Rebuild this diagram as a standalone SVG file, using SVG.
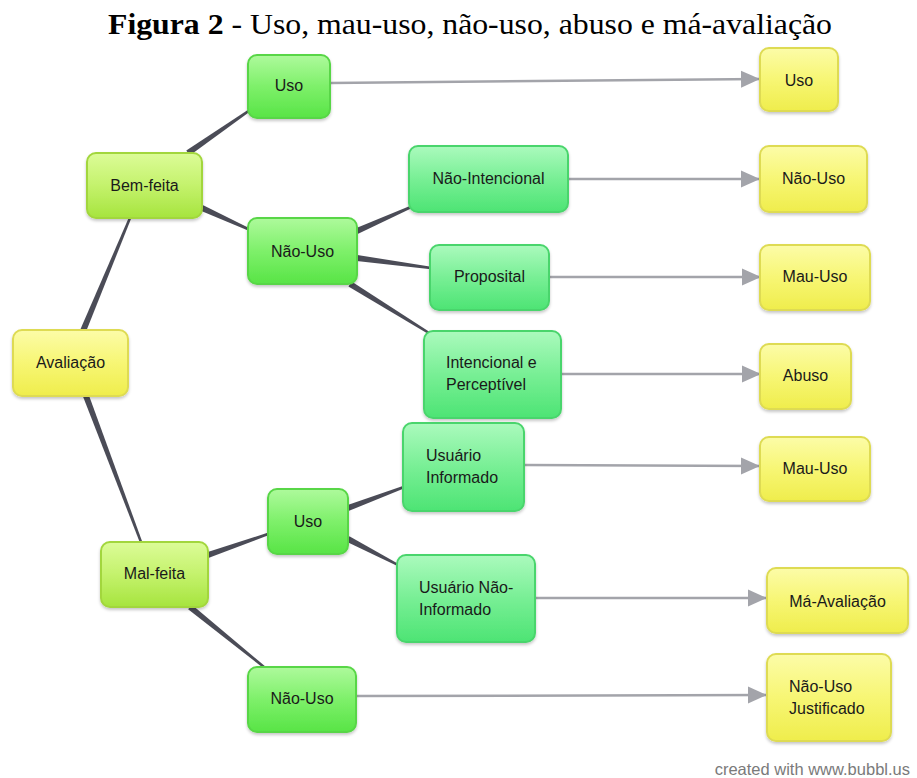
<svg xmlns="http://www.w3.org/2000/svg" width="917" height="778" viewBox="0 0 917 778">
<defs>
<linearGradient id="gLime" x1="0" y1="0" x2="0" y2="1">
<stop offset="0" stop-color="#dcfc98"/><stop offset="0.5" stop-color="#c4f26c"/><stop offset="1" stop-color="#a6e43e"/>
</linearGradient>
<linearGradient id="gGreen" x1="0" y1="0" x2="0" y2="1">
<stop offset="0" stop-color="#aefa9c"/><stop offset="0.5" stop-color="#7ef06a"/><stop offset="1" stop-color="#58e446"/>
</linearGradient>
<linearGradient id="gMint" x1="0" y1="0" x2="0" y2="1">
<stop offset="0" stop-color="#abfabd"/><stop offset="0.5" stop-color="#78ef95"/><stop offset="1" stop-color="#4de474"/>
</linearGradient>
<linearGradient id="gYellow" x1="0" y1="0" x2="0" y2="1">
<stop offset="0" stop-color="#fcfca8"/><stop offset="0.5" stop-color="#f7f674"/><stop offset="1" stop-color="#efed4c"/>
</linearGradient>
<filter id="sh" x="-10%" y="-10%" width="120%" height="130%">
<feDropShadow dx="0" dy="2" stdDeviation="1.5" flood-color="#000" flood-opacity="0.22"/>
</filter>
<marker id="arr" markerUnits="userSpaceOnUse" markerWidth="19" markerHeight="18" refX="19" refY="9" orient="auto">
<path d="M0,0.5 L19,9 L0,17.5 z" fill="#a3a4aa"/>
</marker>
</defs>
<style>
.lime{fill:url(#gLime);stroke:#a2d63c;stroke-width:2;filter:url(#sh)}
.green{fill:url(#gGreen);stroke:#58d646;stroke-width:2;filter:url(#sh)}
.mint{fill:url(#gMint);stroke:#4ad56c;stroke-width:2;filter:url(#sh)}
.yellow{fill:url(#gYellow);stroke:#dedb52;stroke-width:2;filter:url(#sh)}
.t{font-family:"Liberation Sans",Arial,sans-serif;font-size:16px;fill:#1a1a1a;text-anchor:middle}
.tl{font-family:"Liberation Sans",Arial,sans-serif;font-size:16px;fill:#1a1a1a}
.con{fill:#4b4c57}
.arw{stroke:#a3a4aa;stroke-width:2.5;fill:none;marker-end:url(#arr)}
</style>
<rect width="917" height="778" fill="#ffffff"/>
<text x="470" y="34" font-family="'Liberation Serif','Times New Roman',serif" font-size="30" fill="#000" text-anchor="middle" textLength="724" lengthAdjust="spacingAndGlyphs"><tspan font-weight="bold">Figura 2</tspan> - Uso, mau-uso, não-uso, abuso e má-avaliação</text>

<g id="connectors">
<polygon class="con" points="85.77,332.15 131.15,218.48 128.85,217.52 80.23,329.85"/>
<polygon class="con" points="83.19,397.06 139.83,542.44 142.17,541.56 88.81,394.94"/>
<polygon class="con" points="189.71,155.46 250.71,111.03 249.29,108.97 186.29,150.54"/>
<polygon class="con" points="200.75,210.73 247.48,230.14 248.52,227.86 203.25,205.27"/>
<polygon class="con" points="358.22,233.74 411.51,208.14 410.49,205.86 355.78,228.26"/>
<polygon class="con" points="356.6,260.97 430.83,269.24 431.17,266.76 357.4,255.03"/>
<polygon class="con" points="348.42,286.55 428.34,334.06 429.66,331.94 351.58,281.45"/>
<polygon class="con" points="208.99,557.83 268.41,535.18 267.59,532.82 207.01,552.17"/>
<polygon class="con" points="188.11,609.33 263.21,667.97 264.79,666.03 191.89,604.67"/>
<polygon class="con" points="349.05,510.81 404.44,488.17 403.56,485.83 346.95,505.19"/>
<polygon class="con" points="346.62,541.66 397.42,566.11 398.58,563.89 349.38,536.34"/>
<line class="arw" x1="330" y1="83" x2="760" y2="79"/>
<line class="arw" x1="568" y1="179" x2="760" y2="179"/>
<line class="arw" x1="549" y1="277" x2="761" y2="277"/>
<line class="arw" x1="561" y1="374" x2="761" y2="374"/>
<line class="arw" x1="524" y1="465" x2="760" y2="466"/>
<line class="arw" x1="535" y1="598" x2="767" y2="598"/>
<line class="arw" x1="356" y1="696" x2="767" y2="695"/>
</g>

<g id="n-avaliacao"><rect class="yellow" x="13" y="330" width="115" height="66" rx="9"/><text class="t" x="70.5" y="368">Avaliação</text></g>
<g id="n-bemfeita"><rect class="lime" x="87" y="153" width="115" height="65" rx="9"/><text class="t" x="144.5" y="191">Bem-feita</text></g>
<g id="n-malfeita"><rect class="lime" x="101" y="542" width="107" height="65" rx="9"/><text class="t" x="154.5" y="579">Mal-feita</text></g>
<g id="n-uso1"><rect class="green" x="248" y="55" width="82" height="63" rx="9"/><text class="t" x="289" y="91">Uso</text></g>
<g id="n-naouso1"><rect class="green" x="248" y="218" width="109" height="66" rx="9"/><text class="t" x="302.5" y="257">Não-Uso</text></g>
<g id="n-uso2"><rect class="green" x="268" y="489" width="80" height="65" rx="9"/><text class="t" x="308" y="527">Uso</text></g>
<g id="n-naouso2"><rect class="green" x="248" y="667" width="108" height="65" rx="9"/><text class="t" x="302" y="704">Não-Uso</text></g>
<g id="n-naointencional"><rect class="mint" x="409" y="146" width="159" height="66" rx="9"/><text class="t" x="488.5" y="184">Não-Intencional</text></g>
<g id="n-proposital"><rect class="mint" x="430" y="245" width="119" height="65" rx="9"/><text class="t" x="489.5" y="282">Proposital</text></g>
<g id="n-intencional"><rect class="mint" x="424" y="331" width="137" height="87" rx="9"/><text class="tl" x="446" y="368">Intencional e</text><text class="tl" x="446" y="390">Perceptível</text></g>
<g id="n-usinf"><rect class="mint" x="403" y="423" width="121" height="88" rx="9"/><text class="tl" x="426" y="461">Usuário</text><text class="tl" x="426" y="483">Informado</text></g>
<g id="n-usnaoinf"><rect class="mint" x="397" y="555" width="138" height="87" rx="9"/><text class="tl" x="419" y="593">Usuário Não-</text><text class="tl" x="419" y="615">Informado</text></g>
<g id="n-r-uso"><rect class="yellow" x="760" y="48" width="78" height="63" rx="9"/><text class="t" x="799" y="86">Uso</text></g>
<g id="n-r-naouso"><rect class="yellow" x="760" y="146" width="107" height="66" rx="9"/><text class="t" x="813.5" y="184">Não-Uso</text></g>
<g id="n-r-mauuso1"><rect class="yellow" x="760" y="245" width="110" height="65" rx="9"/><text class="t" x="815" y="282">Mau-Uso</text></g>
<g id="n-r-abuso"><rect class="yellow" x="760" y="344" width="91" height="65" rx="9"/><text class="t" x="805.5" y="381">Abuso</text></g>
<g id="n-r-mauuso2"><rect class="yellow" x="760" y="437" width="110" height="64" rx="9"/><text class="t" x="815" y="474">Mau-Uso</text></g>
<g id="n-r-maavaliacao"><rect class="yellow" x="767" y="568" width="141" height="65" rx="9"/><text class="t" x="837.5" y="607">Má-Avaliação</text></g>
<g id="n-r-naousojust"><rect class="yellow" x="767" y="654" width="124" height="87" rx="9"/><text class="tl" x="789" y="692">Não-Uso</text><text class="tl" x="789" y="714">Justificado</text></g>

<text x="910" y="775" font-family="'Liberation Sans',Arial,sans-serif" font-size="16.5" fill="#7a7a7a" text-anchor="end">created with www.bubbl.us</text>
</svg>
